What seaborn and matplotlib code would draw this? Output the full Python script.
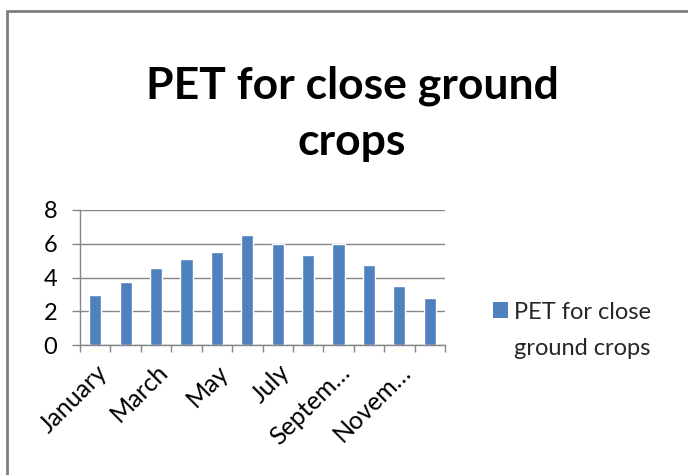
import matplotlib
matplotlib.use("Agg")
import matplotlib.pyplot as plt
from matplotlib.lines import Line2D
from matplotlib.patches import Patch
import seaborn as sns
import pandas as pd

months = ["January", "February", "March", "April", "May", "June",
          "July", "August", "September", "October", "November", "December"]
tick_labels = ["January", "", "March", "", "May", "", "July", "",
               "Septem\u2026", "", "Novem\u2026", ""]
pet_values = [2.95, 3.75, 4.55, 5.1, 5.5, 6.5, 6.0, 5.35, 6.0, 4.72, 3.5, 2.77]
series_name = "PET for close ground crops"

sns.set_theme(style="white")
plt.rcParams["font.family"] = ["Lato", "DejaVu Sans"]

bar_color = "#4F81BD"
grid_color = "#868686"

df = pd.DataFrame({"month": months, "pet": pet_values})

fig = plt.figure(figsize=(6.88, 4.75), dpi=100)
ax = fig.add_axes([80 / 688, 1 - 345 / 475, 365 / 688, 135 / 475])

sns.barplot(data=df, x="month", y="pet", color=bar_color, width=0.4,
            saturation=1, ax=ax)

ax.set_xlim(-0.5, 11.5)
ax.set_ylim(0, 8)
ax.set_yticks([0, 2, 4, 6, 8])
ax.set_yticklabels(["0", "2", "4", "6", "8"], fontsize=17, color="#000000")
ax.set_xlabel("")
ax.set_ylabel("")

ax.yaxis.grid(True, color=grid_color, linewidth=1)
ax.set_axisbelow(True)
for side in ["top", "right"]:
    ax.spines[side].set_visible(False)
for side in ["left", "bottom"]:
    ax.spines[side].set_color(grid_color)
    ax.spines[side].set_linewidth(1)

ax.tick_params(axis="y", which="major", left=True, length=5.5, width=1,
               color=grid_color, pad=11)

# month labels at bar centres, tick marks at category boundaries
ax.set_xticks(range(12))
ax.set_xticklabels(tick_labels, rotation=45, ha="right",
                   rotation_mode="anchor", fontsize=18, color="#000000")
ax.tick_params(axis="x", which="major", bottom=True, length=0, pad=11)
ax.set_xticks([i - 0.5 for i in range(13)], minor=True)
ax.tick_params(axis="x", which="minor", bottom=True, length=5, width=1,
               color=grid_color)

fig.text(352 / 688, 1 - 155 / 475, "PET for close ground\ncrops",
         ha="center", va="baseline", fontsize=32, fontweight="bold",
         linespacing=1.5, color="#000000")

handle = Patch(facecolor=bar_color, edgecolor="none")
leg = fig.legend([handle], ["PET for close\nground crops"],
                 loc="upper left", bbox_to_anchor=(493 / 688, 1 - 302 / 475),
                 frameon=False, fontsize=17, handlelength=0.64,
                 handleheight=0.64, handletextpad=0.25, borderpad=0,
                 borderaxespad=0)
for t in leg.get_texts():
    t.set_linespacing(1.9)
# keep the swatch level with the first text line
for column in leg._legend_handle_box.get_children():
    for row in column.get_children():
        row.align = "top"

# chart frame
fig.add_artist(Line2D([7 / 688, 1], [1 - 11 / 475, 1 - 11 / 475],
                      transform=fig.transFigure, color="#7F7F7F", linewidth=2))
fig.add_artist(Line2D([7 / 688, 7 / 688], [0, 1 - 11 / 475],
                      transform=fig.transFigure, color="#7F7F7F", linewidth=2))

fig.savefig("out.png", dpi=100)
